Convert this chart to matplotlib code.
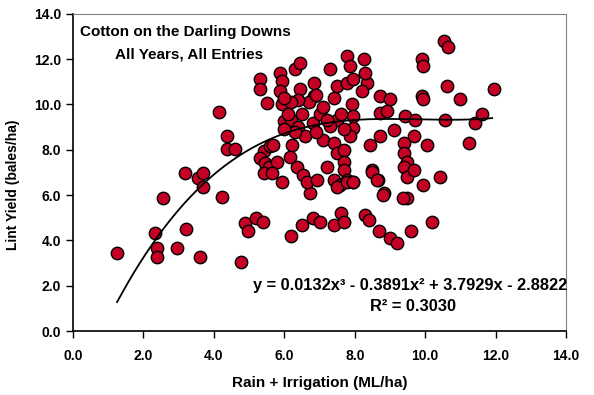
import numpy as np
import matplotlib
matplotlib.use("Agg")
import matplotlib.pyplot as plt

plt.rcParams['font.family'] = ['Liberation Sans', 'DejaVu Sans']

# rain + irrigation (ML/ha) and lint yield (bales/ha)
rain = [1.25, 2.32, 2.37, 2.37, 2.56, 2.95, 3.22, 3.60, 3.18, 3.56, 3.70, 3.70, 4.22, 4.13, 4.37,
        4.37, 4.60, 4.88, 4.97, 4.78,
        5.31, 5.31, 5.50, 5.88, 5.93, 5.88, 5.93, 6.31, 6.45, 5.98, 5.41, 5.60, 5.69, 5.31, 5.45,
        5.55, 5.79, 5.41, 5.64, 5.93, 6.21, 6.17, 6.73, 6.35, 6.54, 6.64, 6.92, 6.45, 6.83, 6.83,
        7.30, 7.78, 7.87, 8.25, 7.49, 7.78, 7.96, 8.34, 8.30, 8.20, 7.92, 7.96, 7.96, 7.87, 7.49,
        7.30, 7.11, 7.40, 7.49, 7.68, 7.68, 7.68, 7.21, 7.40, 7.59, 7.78, 7.96, 8.48, 8.67, 8.82,
        8.44, 8.72, 9.10, 8.72, 9.01, 8.72, 8.91, 9.43, 9.72, 10.57, 11.42, 11.61, 9.39, 9.39, 9.48,
        9.39, 9.48, 9.67, 9.95, 9.48, 9.67, 10.05, 9.91, 9.95, 9.91, 9.95, 10.43, 10.52, 10.66,
        10.62, 11.00, 11.23, 11.94,
        6.2, 6.4, 6.5, 6.6, 6.8, 6.9, 7.0, 7.1, 6.3, 6.0, 6.1, 6.7, 7.2, 7.6, 7.7, 6.4, 6.9, 7.4,
        6.2, 6.0, 7.5, 7.78, 7.95, 8.49, 8.64, 8.81, 9.38,
        5.2, 5.4, 6.2, 6.5, 6.8, 7.0, 7.4, 7.6, 7.7, 8.3, 8.4, 8.7, 9.0, 9.2, 9.6, 10.2]
lint_yield = [3.46, 4.31, 3.65, 3.25, 5.86, 3.68, 4.50, 3.25, 6.96, 6.74, 6.96, 6.37, 5.93, 9.66, 8.59,
              8.03, 8.03, 4.78, 4.43, 3.06,
              11.11, 10.67, 10.07, 11.41, 11.04, 10.59, 10.00, 11.56, 11.85, 9.26, 7.93, 8.15, 8.22,
              7.63, 7.41, 7.26, 7.48, 6.96, 6.96, 6.59, 8.22, 7.70, 6.07, 7.26, 6.89, 6.59, 6.67,
              10.67, 10.96, 10.37, 11.56, 12.15, 11.70, 12.00, 10.81, 10.96, 11.11, 10.96, 11.41,
              10.59, 10.00, 9.48, 8.96, 8.59, 9.33, 9.04, 8.44, 8.30, 7.85, 8.00, 7.48, 7.11, 7.26,
              6.67, 6.44, 6.67, 6.59, 7.11, 6.67, 6.07, 8.22, 8.59, 8.89, 10.37, 10.22, 9.63, 9.70,
              9.48, 9.33, 9.33, 9.19, 9.56, 8.30, 7.85, 7.48, 7.26, 6.81, 7.11, 6.44, 5.85, 8.59,
              8.22, 12.00, 11.70, 10.37, 10.22, 6.81, 12.81, 12.52, 10.81, 10.22, 8.30, 10.67,
              9.3, 9.0, 9.6, 8.6, 9.2, 8.8, 9.6, 9.9, 8.8, 8.9, 9.6, 10.1, 9.3, 9.6, 8.9, 10.2, 10.4,
              10.3, 10.1, 10.3, 6.36, 6.58, 6.58, 7.0, 6.67, 6.0, 5.87,
              5.0, 4.8, 4.2, 4.7, 5.0, 4.8, 4.7, 5.2, 4.8, 5.1, 4.9, 4.4, 4.1, 3.9, 4.4, 4.8]

# cubic trend line
fit_coef = [0.0132, -0.3891, 3.7929, -2.8822]
fit_range = [1.25, 11.9]
equation = "y = 0.0132x³ - 0.3891x² + 3.7929x - 2.8822"
r_squared = "R² = 0.3030"

fig = plt.figure(figsize=(5.94, 3.95), dpi=100)
ax = fig.add_axes([0.123, 0.162, 0.83, 0.803])

ax.scatter(rain, lint_yield, s=80, marker='o', facecolor='#C40024', edgecolor='black',
           linewidth=1.0, zorder=3)

xf = np.linspace(fit_range[0], fit_range[1], 200)
ax.plot(xf, np.polyval(fit_coef, xf), color='black', linewidth=1.3, zorder=4)

ticks = np.arange(0, 15, 2)
ax.set_xlim(0, 14)
ax.set_ylim(0, 14)
ax.set_xticks(ticks)
ax.set_yticks(ticks)
ax.set_xticklabels([f"{v:.1f}" for v in ticks], fontweight='bold')
ax.set_yticklabels([f"{v:.1f}" for v in ticks], fontweight='bold')
ax.tick_params(labelsize=10, direction='out', length=5, width=1)
ax.tick_params(axis='x', pad=8)

for side in ['top', 'right']:
    ax.spines[side].set_color('#808080')
for side in ['left', 'bottom']:
    ax.spines[side].set_linewidth(1.2)

ax.set_xlabel("Rain + Irrigation (ML/ha)", fontsize=11, fontweight='bold', labelpad=9)
ax.set_ylabel("Lint Yield (bales/ha)", fontsize=10, fontweight='bold')
ax.yaxis.set_label_coords(-0.108, 0.46)

ax.text(0.015, 0.965, "Cotton on the Darling Downs", transform=ax.transAxes,
        fontsize=11, fontweight='bold', va='top', ha='left')
ax.text(0.235, 0.895, "All Years, All Entries", transform=ax.transAxes,
        fontsize=11, fontweight='bold', va='top', ha='center')
ax.text(0.684, 0.145, equation, transform=ax.transAxes, fontsize=11.8,
        fontweight='bold', ha='center', va='center')
ax.text(0.69, 0.078, r_squared, transform=ax.transAxes, fontsize=11.8,
        fontweight='bold', ha='center', va='center')

fig.savefig("out.png", dpi=100)
